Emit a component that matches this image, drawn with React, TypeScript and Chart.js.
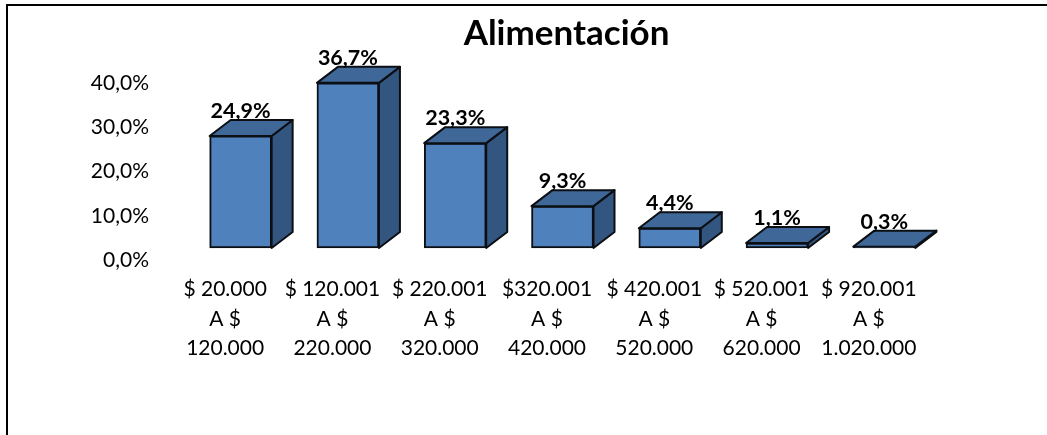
import React, { useEffect, useRef } from "react";
import { Chart, registerables } from "chart.js";

Chart.register(...registerables);

const titleText = "Alimentación";
const categories = [
  ["$ 20.000", "A $", "120.000"],
  ["$ 120.001", "A $", "220.000"],
  ["$ 220.001", "A $", "320.000"],
  ["$320.001", "A $", "420.000"],
  ["$ 420.001", "A $", "520.000"],
  ["$ 520.001", "A $", "620.000"],
  ["$ 920.001", "A $", "1.020.000"],
];
const shares = [24.9, 36.7, 23.3, 9.3, 4.4, 1.1, 0.3];
const shareLabels = ["24,9%", "36,7%", "23,3%", "9,3%", "4,4%", "1,1%", "0,3%"];

const FONT = "Lato, 'Open Sans', sans-serif";
const FRONT = "#4F81BD";
const TOP = "#3F6797";
const SIDE = "#335680";
const EDGE = "#0b0f14";
const DX = 21;
const DY = -16;

const box3d = {
  id: "box3d",
  afterLayout(chart: any) {
    chart.titleBlock.left += 4;
    chart.titleBlock.right += 4;
  },
  beforeDraw(chart: any) {
    const { ctx, width, height } = chart;
    ctx.save();
    ctx.strokeStyle = "#000";
    ctx.lineWidth = 2;
    ctx.beginPath();
    ctx.moveTo(7, height);
    ctx.lineTo(7, 5);
    ctx.lineTo(width, 5);
    ctx.stroke();
    ctx.restore();
  },
  afterDatasetsDraw(chart: any) {
    const { ctx } = chart;
    const meta = chart.getDatasetMeta(0);
    ctx.save();
    ctx.lineJoin = "round";
    ctx.lineWidth = 2;
    ctx.strokeStyle = EDGE;
    meta.data.forEach((bar: any, i: number) => {
      const l = bar.x - bar.width / 2;
      const r = bar.x + bar.width / 2;
      const t = bar.y;
      const b = bar.base;
      ctx.fillStyle = SIDE;
      ctx.beginPath();
      ctx.moveTo(r, t);
      ctx.lineTo(r + DX, t + DY);
      ctx.lineTo(r + DX, b + DY);
      ctx.lineTo(r, b);
      ctx.closePath();
      ctx.fill();
      ctx.stroke();
      ctx.fillStyle = TOP;
      ctx.beginPath();
      ctx.moveTo(l, t);
      ctx.lineTo(l + DX, t + DY);
      ctx.lineTo(r + DX, t + DY);
      ctx.lineTo(r, t);
      ctx.closePath();
      ctx.fill();
      ctx.stroke();
      ctx.fillStyle = "#000";
      ctx.font = `bold 21.5px ${FONT}`;
      ctx.textAlign = "center";
      ctx.textBaseline = "middle";
      ctx.fillText(shareLabels[i], bar.x, t - 25);
    });
    ctx.restore();
  },
};

export default function App() {
  const ref = useRef<HTMLCanvasElement>(null);
  useEffect(() => {
    document.body.style.margin = "0";
    document.body.style.background = "#fff";
    const chart = new Chart(ref.current!, {
      type: "bar",
      data: {
        labels: categories as any,
        datasets: [
          {
            data: shares,
            yAxisID: "yBars",
            backgroundColor: FRONT,
            borderColor: EDGE,
            borderWidth: 2,
            borderSkipped: false,
            barThickness: 62,
            clip: false as any,
          },
        ],
      },
      options: {
        animation: false,
        responsive: false,
        layout: { padding: { left: 0, right: 109, top: 0, bottom: 0 } },
        plugins: {
          legend: { display: false },
          tooltip: { enabled: false },
          title: {
            display: true,
            text: titleText,
            color: "#000",
            fullSize: false,
            font: { family: FONT, size: 35, weight: "bold", lineHeight: 1.2 },
            padding: { top: 13, bottom: 28 },
          },
        },
        scales: {
          x: {
            grid: { display: false, drawTicks: false },
            border: { display: false },
            afterFit(s: any) {
              s.height = 435 - 260;
            },
            ticks: {
              autoSkip: false,
              maxRotation: 0,
              minRotation: 0,
              padding: 15,
              labelOffset: -15.5,
              color: "#000",
              font: { family: FONT, size: 21, lineHeight: 1.4 },
            },
          },
          y: {
            position: "left",
            min: 0,
            max: 40,
            grid: { display: false, drawTicks: false },
            border: { display: false },
            afterFit(s: any) {
              s.width = 187;
            },
            ticks: {
              stepSize: 10,
              padding: 38,
              color: "#000",
              font: { family: FONT, size: 21 },
              callback: (v: any) => `${Number(v).toFixed(1).replace(".", ",")}%`,
            },
          },
          yBars: {
            display: false,
            position: "left",
            min: -2.667,
            max: 36.667,
          },
        },
      },
      plugins: [box3d],
    } as any);
    return () => chart.destroy();
  }, []);
  return <canvas ref={ref} width={1047} height={435} style={{ display: "block" }} />;
}
